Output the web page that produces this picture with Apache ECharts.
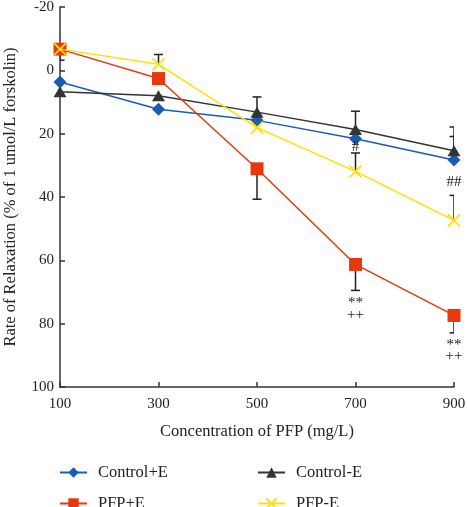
<!DOCTYPE html>
<html><head><meta charset="utf-8">
<script src="https://cdn.jsdelivr.net/npm/echarts@6/dist/echarts.min.js"></script>
<style>html,body{margin:0;padding:0;background:#fff}#c{width:467px;height:507px}</style>
</head><body><div id="c"></div>
<script>
const concentrations = [100, 300, 500, 700, 900];
const seriesNames = ['Control+E', 'Control-E', 'PFP+E', 'PFP-E'];
const controlPlusE = [3.7, 12.3, 15.8, 21.6, 28.3];
const controlMinusE = [6.8, 8.0, 13.2, 18.7, 25.4];
const pfpPlusE = [-6.7, 2.6, 31.1, 61.3, 77.4];
const pfpMinusE = [-6.7, -1.9, 18.1, 31.9, 47.4];
// signed error-bar lengths (end = mean + err)
const controlPlusEErr = [0, 0, 0, 0, -7.4];
const controlMinusEErr = [0, 0, -4.8, -5.8, -7.5];
const pfpPlusEErr = [3.5, 0, 9.6, 8.2, 5.5];
const pfpMinusEErr = [0, -3.1, 0, -5.8, -7.9];
const annotX = [700, 900, 700, 700, 900, 900];
const annotY = [24.2, 35.3, 73.5, 77.4, 86.6, 90.3];
const annotText = ['#', '##', '**', '++', '**', '++'];

const FONT = "'Liberation Serif','Times New Roman',serif";
const colors = ['#1a5cb4', '#333333', '#e8380d', '#ffe000'];
const symbols = ['diamond', 'triangle', 'rect', 'path://M0,0L10,10M10,0L0,10'];
const sizes = [13, [13, 11], 13, 12];
const means = [controlPlusE, controlMinusE, pfpPlusE, pfpMinusE];
const errs = [controlPlusEErr, controlMinusEErr, pfpPlusEErr, pfpMinusEErr];

const errData = [];
means.forEach((m, si) => m.forEach((v, i) => {
  if (errs[si][i]) errData.push([concentrations[i], v, errs[si][i]]);
}));

function errRender(params, api) {
  const x = api.value(0), m = api.value(1), e = api.value(2);
  const p0 = api.coord([x, m]), p1 = api.coord([x, m + e]);
  const hw = 4.5;
  return { type: 'group', children: [
    { type: 'line', shape: { x1: p0[0], y1: p0[1], x2: p1[0], y2: p1[1] }, style: { stroke: '#222', lineWidth: 1.5 } },
    { type: 'line', shape: { x1: p1[0] - hw, y1: p1[1], x2: p1[0] + hw, y2: p1[1] }, style: { stroke: '#222', lineWidth: 1.5 } }
  ]};
}

const annotData = annotX.map((x, i) => [x, annotY[i], annotText[i]]);
function annotRender(params, api) {
  const p = api.coord([api.value(0), api.value(1)]);
  return { type: 'text', x: p[0], y: p[1], style: { text: annotText[params.dataIndex], font: '15px ' + FONT, fill: '#222', align: 'center', verticalAlign: 'middle' } };
}

const lineSeries = seriesNames.map((name, si) => ({
  name, type: 'line', z: 3 + si,
  data: concentrations.map((c, i) => [c, means[si][i]]),
  symbol: symbols[si], symbolSize: sizes[si],
  lineStyle: { color: colors[si], width: 1.5 },
  itemStyle: si === 3 ? { color: 'rgba(0,0,0,0)', borderColor: colors[si], borderWidth: 1.8 } : { color: colors[si], borderWidth: 0 },
  color: colors[si],
  emphasis: { disabled: true }, animation: false
}));

const legendPos = [[59, 464], [257, 464], [59, 495], [257, 495]];
const chart = echarts.init(document.getElementById('c'));
chart.setOption({
  animation: false,
  grid: { left: 60, right: 13, top: 7, bottom: 120, containLabel: false, outerBoundsMode: 'none' },
  legend: seriesNames.map((n, i) => ({
    data: [n], left: legendPos[i][0], top: legendPos[i][1], padding: 0,
    itemWidth: 27, itemHeight: 13,
    textStyle: { fontFamily: FONT, fontSize: 16.5, color: '#222', padding: [0, 0, 0, 6] }
  })),
  xAxis: {
    type: 'value', min: 100, max: 900, interval: 200,
    name: 'Concentration of PFP (mg/L)', nameLocation: 'middle', nameGap: 36,
    nameTextStyle: { fontFamily: FONT, fontSize: 16.5, color: '#222' },
    axisLine: { onZero: false, lineStyle: { color: '#333', width: 1.5 } },
    axisTick: { inside: true, length: 5, lineStyle: { color: '#333', width: 1.5 } },
    axisLabel: { fontFamily: FONT, fontSize: 15, color: '#222', margin: 10 },
    splitLine: { show: false }
  },
  yAxis: {
    type: 'value', min: -20, max: 100, interval: 20, inverse: true,
    name: 'Rate of Relaxation (% of 1 umol/L forskolin)', nameLocation: 'middle', nameGap: 41, nameRotate: 90,
    nameTextStyle: { fontFamily: FONT, fontSize: 16.5, color: '#222' },
    axisLine: { show: true, onZero: false, lineStyle: { color: '#333', width: 1.5 } },
    axisTick: { show: true, inside: true, length: 5, lineStyle: { color: '#333', width: 1.5 } },
    axisLabel: { fontFamily: FONT, fontSize: 15, color: '#222', margin: 6 },
    splitLine: { show: false }
  },
  series: [
    { type: 'custom', name: 'err', renderItem: errRender, data: errData, z: 2, clip: true, silent: true, legendHoverLink: false },
    ...lineSeries,
    { type: 'custom', name: 'annot', renderItem: annotRender, data: annotData, z: 10, clip: false, silent: true }
  ]
});
</script></body></html>
